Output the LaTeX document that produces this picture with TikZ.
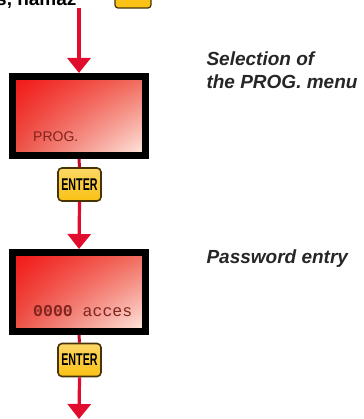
\documentclass[tikz,border=0pt]{standalone}
\usepackage{fontspec}
\setmainfont{Liberation Sans}
\newfontfamily\lcdmono{Liberation Mono}
\usetikzlibrary{arrows.meta,shadings}

\definecolor{flowred}{rgb}{0.88,0.05,0.18}
\definecolor{keyyellow}{rgb}{0.98,0.76,0.08}
\definecolor{keyedge}{rgb}{0.28,0.20,0.02}
\definecolor{lcdtext}{rgb}{0.50,0.14,0.12}
\definecolor{labeltext}{rgb}{0.15,0.15,0.15}
\definecolor{lcdUL}{rgb}{0.95,0.08,0.08}
\definecolor{lcdUR}{rgb}{0.94,0.42,0.36}
\definecolor{lcdLL}{rgb}{0.92,0.32,0.27}
\definecolor{lcdLR}{rgb}{1,0.93,0.90}

\tikzset{
  display/.style={draw=black, line width=7pt, inner sep=0pt,
    minimum width=133pt, minimum height=79pt,
    upper left=lcdUL, upper right=lcdUR,
    lower left=lcdLL, lower right=lcdLR},
  enterkey/.style={draw=keyedge, line width=1.6pt, rounded corners=4pt,
    top color=keyyellow!65!white, bottom color=keyyellow,
    minimum width=43pt, minimum height=33pt, inner sep=0pt,
    font=\fontsize{17}{17}\selectfont\bfseries},
  flow/.style={flowred, line width=3.2pt, -{Triangle[width=23pt,length=15pt]}},
  link/.style={flowred!85!black, line width=3pt},
  stepnote/.style={anchor=base west, text=labeltext, align=left,
    font=\fontsize{19}{23}\selectfont\bfseries\itshape},
}

\begin{document}
\begin{tikzpicture}[x=1pt,y=1pt]
\useasboundingbox (0,0) rectangle (363,419);
\clip (0,0) rectangle (363,419);

% line of running text above, mostly outside the frame
\node[anchor=base west, inner sep=0pt, font=\fontsize{19}{19}\selectfont\bfseries]
  (prevline) at (-4,413) {s, nama\v{z}};
\node[draw=keyedge, line width=1.2pt, rounded corners=3pt, fill=keyyellow,
  minimum width=36pt, minimum height=20pt, inner sep=0pt]
  (prevkey) at (133,421) {};

% displays
\node[display] (disp1) at (79,303) {};
\node[anchor=base west, inner sep=0pt, text=lcdtext,
  font=\fontsize{14}{14}\selectfont] (lcd1) at (33,277) {PROG.};

\node[display] (disp2) at (79,127) {};
\node[anchor=base west, inner sep=0pt, text=lcdtext,
  font=\lcdmono\fontsize{16.5}{16.5}\selectfont] (lcd2) at (33,102)
  {\textbf{0000} acces};

% ENTER keys
\node[enterkey] (key1) at (79.5,234.5) {\scalebox{0.63}[1]{ENTER}};
\node[enterkey] (key2) at (79.5,59) {\scalebox{0.63}[1]{ENTER}};

% flow
\coordinate (start) at (79,411);
\coordinate (finish) at (79,0);
\draw[flow] (start) -- (disp1.north);
\draw[link] (disp1.south) -- (key1.north);
\draw[flow] (key1.south) -- (disp2.north);
\draw[link] (disp2.south) -- (key2.north);
\draw[flow] (key2.south) -- (finish);

% step descriptions
\node[stepnote] (note1) at (203,330) {Selection of\\the PROG. menu};
\node[stepnote] (note2) at (203,155) {Password entry};
\end{tikzpicture}
\end{document}
